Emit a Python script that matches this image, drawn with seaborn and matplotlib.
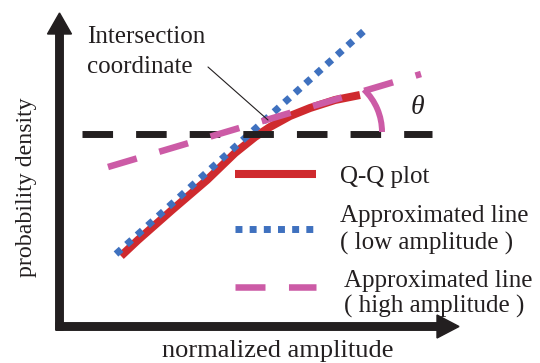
import matplotlib
matplotlib.use("Agg")
import matplotlib.pyplot as plt
from matplotlib.patches import FancyArrow, Arc
import seaborn as sns
import pandas as pd

# ---- data (pixel-like units, y grows downward) ----
qq_x = [121, 138, 172, 207, 235, 255, 270, 290, 310, 335, 360]
qq_y = [256, 240, 210, 180, 153, 137, 127, 116, 108, 100, 95]
low_x = [116, 365]
low_y = [254, 30]
high_x = [108, 421]
high_y = [167, 74]
thr_x = [82, 432]
thr_y = [133.5, 133.5]

legend_labels = [["Q-Q plot"],
                 ["Approximated line", "( low amplitude )"],
                 ["Approximated line", "( high amplitude )"]]
x_label = "normalized amplitude"
y_label = "probability density"
annot_text = ["Intersection", "coordinate"]
theta_text = "θ"

# ---- style ----
sns.set_style("white")
plt.rcParams["font.family"] = ["Liberation Serif", "DejaVu Serif"]
plt.rcParams["lines.scale_dashes"] = False

RED = "#cf2a2e"
BLUE = "#3f71bf"
PINK = "#cc5ba6"
BLACK = "#231f20"

fig = plt.figure(figsize=(5.4, 3.63), dpi=100)
ax = fig.add_axes([0, 0, 1, 1])
ax.set_xlim(0, 540)
ax.set_ylim(363, 0)
ax.axis("off")

qq = pd.DataFrame({"x": qq_x, "y": qq_y})
low = pd.DataFrame({"x": low_x, "y": low_y})
high = pd.DataFrame({"x": high_x, "y": high_y})
thr = pd.DataFrame({"x": thr_x, "y": thr_y})

# Q-Q curve
sns.lineplot(data=qq, x="x", y="y", ax=ax, sort=False, estimator=None,
             color=RED, linewidth=5.8, solid_capstyle="butt", zorder=2)
# low amplitude approximated line (dotted)
sns.lineplot(data=low, x="x", y="y", ax=ax, sort=False, estimator=None,
             color=BLUE, linewidth=5.0, linestyle=(0, (5.0, 5.2)),
             dash_capstyle="butt", zorder=3)
# threshold dashed line
sns.lineplot(data=thr, x="x", y="y", ax=ax, sort=False, estimator=None,
             color=BLACK, linewidth=5.0, linestyle=(0, (22.0, 16.6)),
             dash_capstyle="butt", zorder=4)
# high amplitude approximated line (dashed)
sns.lineplot(data=high, x="x", y="y", ax=ax, sort=False, estimator=None,
             color=PINK, linewidth=4.7, linestyle=(0, (21.6, 16.9)),
             dash_capstyle="butt", zorder=5)
ax.set_xlabel("")
ax.set_ylabel("")

# angle arc
ax.add_patch(Arc((323, 132), 118, 118, theta1=-46, theta2=0,
                 color=PINK, linewidth=4.3, zorder=5))
ax.text(417, 108, theta_text, fontsize=20, fontstyle="italic",
        ha="center", va="center", color=BLACK)

# axes arrows
ax.add_patch(FancyArrow(59.5, 330, 0, -317, width=7.5, head_width=24,
                        head_length=21, length_includes_head=True,
                        color=BLACK, zorder=6))
ax.add_patch(FancyArrow(56, 326.5, 403, 0, width=7.5, head_width=23,
                        head_length=22, length_includes_head=True,
                        color=BLACK, zorder=6))

# annotation
ax.text(87, 43, annot_text[0], fontsize=18, va="baseline", ha="left", color=BLACK)
ax.text(87, 73, annot_text[1], fontsize=18, va="baseline", ha="left", color=BLACK)
ax.plot([208, 268], [67, 120], color=BLACK, linewidth=0.8, zorder=7)

# legend
key_x = [235, 316]
key_y = [174, 229, 287]
key_styles = [
    dict(color=RED, linewidth=5.8, solid_capstyle="butt"),
    dict(color=BLUE, linewidth=5.0, linestyle=(0, (5.0, 5.2)), dash_capstyle="butt"),
    dict(color=PINK, linewidth=4.7, linestyle=(0, (21.6, 16.9)), dash_capstyle="butt"),
]
text_pos = [(340, [183]), (340, [222, 250]), (344, [287, 313])]
for ky, st, labels, (tx, tys) in zip(key_y, key_styles, legend_labels, text_pos):
    ax.plot(key_x, [ky, ky], **st)
    for lab, ty in zip(labels, tys):
        ax.text(tx, ty, lab, fontsize=18, va="baseline", ha="left", color=BLACK)

# axis labels
ax.text(277.5, 357, x_label, fontsize=19, ha="center", va="baseline", color=BLACK)
ax.text(27, 187, y_label, fontsize=17.2, rotation=90, ha="center", va="center",
        color=BLACK)

fig.savefig("out.png", dpi=100)
